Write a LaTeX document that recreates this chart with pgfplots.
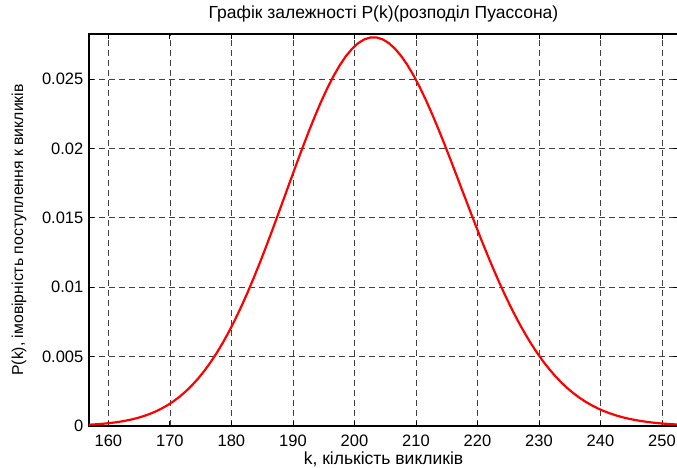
\documentclass[border=0pt]{standalone}
\usepackage{fontspec}
\setmainfont{Liberation Sans}
\usepackage{pgfplots}
\pgfplotsset{compat=1.18}
\usepackage{pgfplotstable}
\pgfplotstableread{
k p
156.6 0.0000860
157.6 0.0001111
158.6 0.0001428
159.6 0.0001823
160.6 0.0002313
161.6 0.0002916
162.6 0.0003655
163.6 0.0004551
164.6 0.0005634
165.6 0.0006931
166.6 0.0008476
167.6 0.0010303
168.6 0.0012449
169.6 0.0014953
170.6 0.0017856
171.6 0.0021198
172.6 0.0025019
173.6 0.0029358
174.6 0.0034251
175.6 0.0039731
176.6 0.0045826
177.6 0.0052557
178.6 0.0059939
179.6 0.0067975
180.6 0.0076661
181.6 0.0085979
182.6 0.0095899
183.6 0.010638
184.6 0.011736
185.6 0.012878
186.6 0.014055
187.6 0.015258
188.6 0.016475
189.6 0.017695
190.6 0.018906
191.6 0.020094
192.6 0.021245
193.6 0.022346
194.6 0.023383
195.6 0.024342
196.6 0.025211
197.6 0.025979
198.6 0.026635
199.6 0.027170
200.6 0.027578
201.6 0.027852
202.6 0.027990
203.6 0.027990
204.6 0.027853
205.6 0.027581
206.6 0.027179
207.6 0.026654
208.6 0.026013
209.6 0.025266
210.6 0.024424
211.6 0.023498
212.6 0.022500
213.6 0.021444
214.6 0.020342
215.6 0.019207
216.6 0.018051
217.6 0.016886
218.6 0.015724
219.6 0.014575
220.6 0.013449
221.6 0.012354
222.6 0.011297
223.6 0.010284
224.6 0.0093199
225.6 0.0084086
226.6 0.0075529
227.6 0.0067544
228.6 0.0060138
229.6 0.0053310
230.6 0.0047052
231.6 0.0041349
232.6 0.0036180
233.6 0.0031522
234.6 0.0027346
235.6 0.0023622
236.6 0.0020319
237.6 0.0017404
238.6 0.0014845
239.6 0.0012609
240.6 0.0010665
241.6 0.00089834
242.6 0.00075357
243.6 0.00062953
244.6 0.00052375
245.6 0.00043396
246.6 0.00035811
247.6 0.00029432
248.6 0.00024092
249.6 0.00019641
250.6 0.00015949
251.6 0.00012899
252.6 0.00010391
253.6 0.000083374
}\poisson
\begin{document}
\fontsize{16.5}{19}\selectfont
\begin{tikzpicture}
\path[use as bounding box] (-89pt,-41pt) rectangle (588pt,426pt);
\begin{axis}[
  at={(0pt,0pt)}, anchor=south west,
  scale only axis,
  width=589pt, height=392pt,
  xmin=156.85, xmax=252.6,
  ymin=0, ymax=0.02824,
  xtick={160,170,...,250},
  ytick={0,0.005,0.01,0.015,0.02,0.025},
  yticklabels={0,0.005,0.01,0.015,0.02,0.025},
  scaled y ticks=false,
  /pgf/number format/assume math mode=true,
  tick align=inside,
  major tick length=5pt,
  tick style={black, line width=0.8pt},
  axis line style={black, line width=1.2pt},
  grid=major,
  major grid style={black!75, line width=0.7pt, dash pattern=on 6pt off 4pt},
  xticklabel style={yshift=-3pt},
  title={Графік залежності P(k)(розподіл Пуассона)},
  title style={at={(0.5,1)}, anchor=base, yshift=9pt, font=\fontsize{17.5}{20}\selectfont},
  xlabel={k, кількість викликів},
  xlabel style={at={(0.5,0)}, anchor=base, yshift=-38pt, font=\fontsize{17.5}{20}\selectfont},
  ylabel={P(k), імовірність поступлення к викликів},
  ylabel style={at={(0,0.5)}, anchor=center, yshift=70pt, font=\fontsize{15.8}{18}\selectfont},
]
\addplot[red, line width=2.2pt, mark=none] table[x=k, y=p] {\poisson};
\end{axis}
\end{tikzpicture}
\end{document}
